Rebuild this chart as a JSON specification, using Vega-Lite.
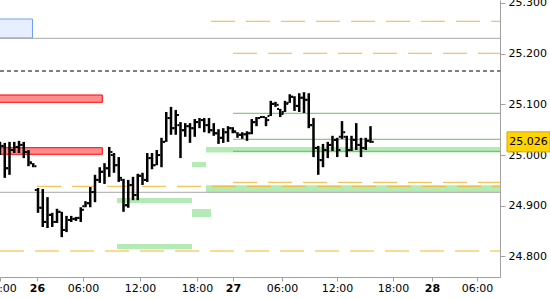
{
  "$schema": "https://vega.github.io/schema/vega-lite/v6.json",
  "width": 500,
  "height": 277,
  "autosize": {"type": "none"},
  "padding": {"left": 0, "top": 0, "right": 50, "bottom": 23},
  "background": "white",
  "config": {
    "view": {"stroke": null},
    "axis": {"labelFont": "DejaVu Sans", "labelFontSize": 11, "labelColor": "#000000", "domainColor": "#a0a0a0", "tickColor": "#a0a0a0", "grid": false, "labelFlush": false, "labelOverlap": false}
  },
  "datasets": {
    "bars": [
      {"i":0,"o":25.010,"h":25.026,"l":25.000,"c":25.018},
      {"i":1,"o":25.018,"h":25.024,"l":24.955,"c":24.974},
      {"i":2,"o":24.974,"h":25.026,"l":24.961,"c":25.010},
      {"i":3,"o":25.010,"h":25.026,"l":25.004,"c":25.016},
      {"i":4,"o":25.016,"h":25.028,"l":25.004,"c":25.020},
      {"i":5,"o":25.020,"h":25.026,"l":24.994,"c":25.006},
      {"i":6,"o":25.006,"h":25.010,"l":24.978,"c":24.986},
      {"i":7,"o":24.984,"h":24.984,"l":24.976,"c":24.978},
      {"i":8,"o":24.931,"h":24.935,"l":24.886,"c":24.896},
      {"i":9,"o":24.896,"h":24.933,"l":24.858,"c":24.868},
      {"i":10,"o":24.868,"h":24.917,"l":24.856,"c":24.882},
      {"i":11,"o":24.882,"h":24.886,"l":24.858,"c":24.868},
      {"i":12,"o":24.868,"h":24.894,"l":24.866,"c":24.888},
      {"i":13,"o":24.888,"h":24.888,"l":24.838,"c":24.852},
      {"i":14,"o":24.852,"h":24.880,"l":24.848,"c":24.872},
      {"i":15,"o":24.872,"h":24.880,"l":24.868,"c":24.874},
      {"i":16,"o":24.874,"h":24.878,"l":24.870,"c":24.876},
      {"i":17,"o":24.876,"h":24.897,"l":24.868,"c":24.892},
      {"i":18,"o":24.899,"h":24.909,"l":24.897,"c":24.905},
      {"i":19,"o":24.905,"h":24.937,"l":24.897,"c":24.927},
      {"i":20,"o":24.927,"h":24.961,"l":24.907,"c":24.951},
      {"i":21,"o":24.951,"h":24.976,"l":24.945,"c":24.967},
      {"i":22,"o":24.967,"h":24.984,"l":24.943,"c":24.974},
      {"i":23,"o":24.974,"h":25.016,"l":24.957,"c":25.006},
      {"i":24,"o":25.000,"h":25.004,"l":24.965,"c":24.980},
      {"i":25,"o":24.980,"h":24.996,"l":24.947,"c":24.955},
      {"i":26,"o":24.951,"h":24.953,"l":24.888,"c":24.901},
      {"i":27,"o":24.901,"h":24.951,"l":24.896,"c":24.941},
      {"i":28,"o":24.941,"h":24.957,"l":24.911,"c":24.921},
      {"i":29,"o":24.921,"h":24.963,"l":24.911,"c":24.959},
      {"i":30,"o":24.959,"h":24.965,"l":24.941,"c":24.951},
      {"i":31,"o":24.951,"h":25.004,"l":24.947,"c":24.994},
      {"i":32,"o":24.994,"h":25.004,"l":24.972,"c":24.980},
      {"i":33,"o":24.980,"h":25.010,"l":24.980,"c":25.000},
      {"i":34,"o":25.000,"h":25.034,"l":24.976,"c":25.026},
      {"i":35,"o":25.026,"h":25.085,"l":25.026,"c":25.073},
      {"i":36,"o":25.073,"h":25.095,"l":25.040,"c":25.053},
      {"i":37,"o":25.053,"h":25.089,"l":25.040,"c":25.079},
      {"i":38,"o":25.059,"h":25.065,"l":24.994,"c":25.049},
      {"i":39,"o":25.049,"h":25.063,"l":25.036,"c":25.057},
      {"i":40,"o":25.057,"h":25.063,"l":25.024,"c":25.053},
      {"i":41,"o":25.053,"h":25.071,"l":25.036,"c":25.065},
      {"i":42,"o":25.065,"h":25.073,"l":25.053,"c":25.069},
      {"i":43,"o":25.069,"h":25.073,"l":25.045,"c":25.059},
      {"i":44,"o":25.059,"h":25.073,"l":25.043,"c":25.049},
      {"i":45,"o":25.049,"h":25.063,"l":25.038,"c":25.043},
      {"i":46,"o":25.043,"h":25.051,"l":25.022,"c":25.034},
      {"i":47,"o":25.034,"h":25.053,"l":25.024,"c":25.045},
      {"i":48,"o":25.045,"h":25.057,"l":25.026,"c":25.053},
      {"i":49,"o":25.053,"h":25.055,"l":25.043,"c":25.047},
      {"i":50,"o":25.045,"h":25.045,"l":25.034,"c":25.040},
      {"i":51,"o":25.040,"h":25.045,"l":25.032,"c":25.041},
      {"i":52,"o":25.041,"h":25.047,"l":25.028,"c":25.043},
      {"i":53,"o":25.043,"h":25.071,"l":25.041,"c":25.065},
      {"i":54,"o":25.065,"h":25.075,"l":25.057,"c":25.073},
      {"i":55,"o":25.073,"h":25.077,"l":25.073,"c":25.075},
      {"i":56,"o":25.075,"h":25.075,"l":25.057,"c":25.069},
      {"i":57,"o":25.077,"h":25.107,"l":25.077,"c":25.101},
      {"i":58,"o":25.101,"h":25.105,"l":25.095,"c":25.099},
      {"i":59,"o":25.091,"h":25.091,"l":25.075,"c":25.081},
      {"i":60,"o":25.085,"h":25.107,"l":25.085,"c":25.101},
      {"i":61,"o":25.103,"h":25.120,"l":25.103,"c":25.115},
      {"i":62,"o":25.115,"h":25.116,"l":25.087,"c":25.097},
      {"i":63,"o":25.097,"h":25.122,"l":25.085,"c":25.113},
      {"i":64,"o":25.113,"h":25.124,"l":25.083,"c":25.109},
      {"i":65,"o":25.109,"h":25.122,"l":25.053,"c":25.059},
      {"i":66,"o":25.059,"h":25.073,"l":24.996,"c":25.014},
      {"i":67,"o":25.014,"h":25.018,"l":24.961,"c":24.990},
      {"i":68,"o":24.990,"h":25.022,"l":24.976,"c":25.010},
      {"i":69,"o":25.010,"h":25.026,"l":24.994,"c":25.020},
      {"i":70,"o":25.020,"h":25.038,"l":25.008,"c":25.030},
      {"i":71,"o":25.030,"h":25.034,"l":24.996,"c":25.010},
      {"i":72,"o":25.036,"h":25.067,"l":25.032,"c":25.045},
      {"i":73,"o":25.036,"h":25.038,"l":24.996,"c":25.010},
      {"i":74,"o":25.010,"h":25.038,"l":25.008,"c":25.030},
      {"i":75,"o":25.030,"h":25.063,"l":25.010,"c":25.020},
      {"i":76,"o":25.020,"h":25.034,"l":24.996,"c":25.014},
      {"i":77,"o":25.014,"h":25.034,"l":25.010,"c":25.028},
      {"i":78,"o":25.028,"h":25.057,"l":25.024,"c":25.026}
    ],
    "greenZones": [
      {"from":43.37,"to":105.3,"top":25.0159,"bottom":25.0050},
      {"from":40.42,"to":43.37,"top":24.9863,"bottom":24.9764},
      {"from":43.37,"to":105.3,"top":24.9403,"bottom":24.9265},
      {"from":24.63,"to":40.42,"top":24.9152,"bottom":24.9054},
      {"from":40.42,"to":44.42,"top":24.8935,"bottom":24.8777},
      {"from":24.63,"to":40.42,"top":24.8244,"bottom":24.8146}
    ],
    "redZones": [
      {"from":-1,"to":21.54,"top":25.1185,"bottom":25.1041},
      {"from":-1,"to":21.54,"top":25.0145,"bottom":25.0015}
    ],
    "blueZones": [
      {"from":-1,"to":6.84,"top":25.2684,"bottom":25.2309}
    ],
    "grayLines": [
      {"from":0,"to":105.3,"level":25.2303},
      {"from":0,"to":105.3,"level":24.9265}
    ],
    "greenLines": [
      {"from":49.05,"to":105.3,"level":25.0824},
      {"from":49.05,"to":105.3,"level":25.0311},
      {"from":49.05,"to":105.3,"level":25.0074}
    ],
    "orangeLines": [
      {"from":44.42,"to":105.3,"level":25.2639},
      {"from":49.05,"to":105.3,"level":25.2008},
      {"from":49.05,"to":105.3,"level":24.9462},
      {"from":7.79,"to":105.3,"level":24.9383},
      {"from":0,"to":105.3,"level":24.8107}
    ],
    "blackLines": [
      {"from":0,"to":105.3,"level":25.1658}
    ],
    "last": [{"price":25.026}]
  },
  "layer": [
    {
      "data": {"name": "greenZones"},
      "mark": {"type": "rect", "fill": "#b4eab4", "strokeWidth": 0},
      "encoding": {
        "x": {"field": "from", "type": "quantitative", "title": null, "scale": {"domain": [0, 105.263], "nice": false, "zero": false},
          "axis": {"orient": "bottom", "title": null, "values": [0.1, 7.79, 17.47, 29.47, 41.47, 49.05, 59.37, 70.95, 82.74, 90.95, 100.42],
            "labelExpr": "datum.value < 3 ? '18:00' : datum.value < 10 ? '26' : datum.value < 20 ? '06:00' : datum.value < 35 ? '12:00' : datum.value < 45 ? '18:00' : datum.value < 55 ? '27' : datum.value < 65 ? '06:00' : datum.value < 75 ? '12:00' : datum.value < 85 ? '18:00' : datum.value < 95 ? '28' : '06:00'",
            "labelFontWeight": {"condition": {"test": "(datum.value > 7 && datum.value < 10) || (datum.value > 45 && datum.value < 55) || (datum.value > 85 && datum.value < 95)", "value": "bold"}, "value": "normal"},
            "tickSize": 4, "labelPadding": 1}},
        "x2": {"field": "to"},
        "y": {"field": "top", "type": "quantitative", "title": null, "scale": {"domain": [24.7594, 25.3059], "nice": false, "zero": false},
          "axis": {"orient": "right", "title": null, "values": [24.8, 24.9, 25.0, 25.1, 25.2, 25.3], "format": ".3f", "tickSize": 5, "labelPadding": 3}},
        "y2": {"field": "bottom"}
      }
    },
    {
      "data": {"name": "redZones"},
      "mark": {"type": "rect", "fill": "#ff8c8c", "stroke": "#ff0000", "strokeWidth": 1},
      "encoding": {
        "x": {"field": "from", "type": "quantitative", "title": null, "scale": {"domain": [0, 105.263], "nice": false, "zero": false}},
        "x2": {"field": "to"},
        "y": {"field": "top", "type": "quantitative", "title": null, "scale": {"domain": [24.7594, 25.3059], "nice": false, "zero": false}},
        "y2": {"field": "bottom"}
      }
    },
    {
      "data": {"name": "blueZones"},
      "mark": {"type": "rect", "fill": "#e6eeff", "stroke": "#6f9ef8", "strokeWidth": 1},
      "encoding": {
        "x": {"field": "from", "type": "quantitative", "title": null, "scale": {"domain": [0, 105.263], "nice": false, "zero": false}},
        "x2": {"field": "to"},
        "y": {"field": "top", "type": "quantitative", "title": null, "scale": {"domain": [24.7594, 25.3059], "nice": false, "zero": false}},
        "y2": {"field": "bottom"}
      }
    },
    {
      "data": {"name": "grayLines"},
      "mark": {"type": "rule", "color": "#a8a8a8", "strokeWidth": 1},
      "encoding": {
        "x": {"field": "from", "type": "quantitative", "title": null, "scale": {"domain": [0, 105.263], "nice": false, "zero": false}},
        "x2": {"field": "to"},
        "y": {"field": "level", "type": "quantitative", "title": null, "scale": {"domain": [24.7594, 25.3059], "nice": false, "zero": false}}
      }
    },
    {
      "data": {"name": "greenLines"},
      "mark": {"type": "rule", "color": "#5cc45c", "strokeWidth": 1},
      "encoding": {
        "x": {"field": "from", "type": "quantitative", "title": null, "scale": {"domain": [0, 105.263], "nice": false, "zero": false}},
        "x2": {"field": "to"},
        "y": {"field": "level", "type": "quantitative", "title": null, "scale": {"domain": [24.7594, 25.3059], "nice": false, "zero": false}}
      }
    },
    {
      "data": {"name": "orangeLines"},
      "mark": {"type": "rule", "color": "#f6b530", "strokeWidth": 1, "strokeDash": [24, 11]},
      "encoding": {
        "x": {"field": "from", "type": "quantitative", "title": null, "scale": {"domain": [0, 105.263], "nice": false, "zero": false}},
        "x2": {"field": "to"},
        "y": {"field": "level", "type": "quantitative", "title": null, "scale": {"domain": [24.7594, 25.3059], "nice": false, "zero": false}}
      }
    },
    {
      "data": {"name": "blackLines"},
      "mark": {"type": "rule", "color": "#000000", "strokeWidth": 1, "strokeDash": [4, 3]},
      "encoding": {
        "x": {"field": "from", "type": "quantitative", "title": null, "scale": {"domain": [0, 105.263], "nice": false, "zero": false}},
        "x2": {"field": "to"},
        "y": {"field": "level", "type": "quantitative", "title": null, "scale": {"domain": [24.7594, 25.3059], "nice": false, "zero": false}}
      }
    },
    {
      "data": {"name": "bars"},
      "mark": {"type": "rule", "color": "#000000", "strokeWidth": 2.5},
      "encoding": {
        "x": {"field": "i", "type": "quantitative", "title": null, "scale": {"domain": [0, 105.263], "nice": false, "zero": false}},
        "y": {"field": "l", "type": "quantitative", "title": null, "scale": {"domain": [24.7594, 25.3059], "nice": false, "zero": false}},
        "y2": {"field": "h"}
      }
    },
    {
      "data": {"name": "bars"},
      "mark": {"type": "tick", "orient": "horizontal", "size": 2, "thickness": 2, "xOffset": -2.2, "color": "#000000", "opacity": 1},
      "encoding": {
        "x": {"field": "i", "type": "quantitative", "title": null, "scale": {"domain": [0, 105.263], "nice": false, "zero": false}},
        "y": {"field": "o", "type": "quantitative", "title": null, "scale": {"domain": [24.7594, 25.3059], "nice": false, "zero": false}}
      }
    },
    {
      "data": {"name": "bars"},
      "mark": {"type": "tick", "orient": "horizontal", "size": 2, "thickness": 2, "xOffset": 2.2, "color": "#000000", "opacity": 1},
      "encoding": {
        "x": {"field": "i", "type": "quantitative", "title": null, "scale": {"domain": [0, 105.263], "nice": false, "zero": false}},
        "y": {"field": "c", "type": "quantitative", "title": null, "scale": {"domain": [24.7594, 25.3059], "nice": false, "zero": false}}
      }
    },
    {
      "data": {"name": "last"},
      "mark": {"type": "tick", "orient": "horizontal", "size": 43, "thickness": 20, "color": "#ffd400", "stroke": "#d8a800", "strokeWidth": 1, "opacity": 1},
      "encoding": {
        "x": {"datum": 111.26, "type": "quantitative", "title": null, "scale": {"domain": [0, 105.263], "nice": false, "zero": false}},
        "y": {"field": "price", "type": "quantitative", "title": null, "scale": {"domain": [24.7594, 25.3059], "nice": false, "zero": false}}
      }
    },
    {
      "data": {"name": "last"},
      "mark": {"type": "text", "font": "DejaVu Sans", "fontSize": 11, "align": "center", "baseline": "middle", "color": "#000000"},
      "encoding": {
        "x": {"datum": 111.26, "type": "quantitative", "title": null, "scale": {"domain": [0, 105.263], "nice": false, "zero": false}},
        "y": {"field": "price", "type": "quantitative", "title": null, "scale": {"domain": [24.7594, 25.3059], "nice": false, "zero": false}},
        "text": {"field": "price", "type": "quantitative", "format": ".3f"}
      }
    }
  ]
}
